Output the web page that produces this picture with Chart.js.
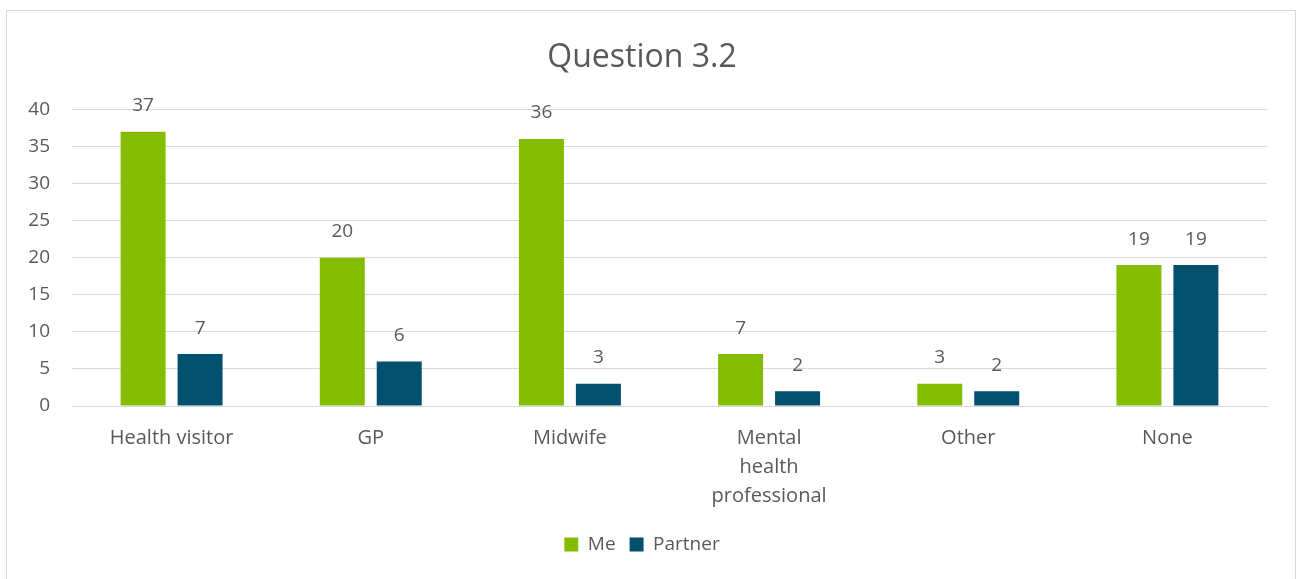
<!DOCTYPE html>
<html>
<head>
<meta charset="utf-8">
<script src="https://cdn.jsdelivr.net/npm/chart.js@4"></script>
<style>
  html, body { margin: 0; padding: 0; background: #fff; }
  #frame {
    position: absolute;
    left: 6px; top: 10px;
    width: 1290px; height: 580px;
    border: 1px solid #d9d9d9;
    box-sizing: border-box;
  }
  #frame canvas { display: block; }
</style>
</head>
<body>
<div id="frame"><canvas id="chart"></canvas></div>
<script>
// Question 3.2 responses, grouped by who was asked
const categories = ["Health visitor", "GP", "Midwife", ["Mental", "health", "professional"], "Other", "None"];
const meValues = [37, 20, 36, 7, 3, 19];
const partnerValues = [7, 6, 3, 2, 2, 19];
const yTicks = [0, 5, 10, 15, 20, 25, 30, 35, 40];

const textColor = "#595959";
const gridColor = "#d9d9d9";
const fontFamily = "'Open Sans', 'Noto Sans', sans-serif";

// Draws each bar's value just above it
const valueLabels = {
  id: "valueLabels",
  afterDatasetsDraw(chart) {
    const ctx = chart.ctx;
    ctx.save();
    ctx.fillStyle = textColor;
    ctx.font = `19px ${fontFamily}`;
    ctx.textAlign = "center";
    ctx.textBaseline = "middle";
    chart.data.datasets.forEach((ds, i) => {
      chart.getDatasetMeta(i).data.forEach((bar, j) => {
        ctx.fillText(ds.data[j], bar.x, bar.y - 26);
      });
    });
    ctx.restore();
  }
};

Chart.defaults.font.family = fontFamily;
Chart.defaults.color = textColor;

new Chart(document.getElementById("chart"), {
  type: "bar",
  data: {
    labels: categories,
    datasets: [
      {
        label: "Me",
        data: meValues,
        backgroundColor: "#84bd00",
        categoryPercentage: 0.572,
        barPercentage: 0.79
      },
      {
        label: "Partner",
        data: partnerValues,
        backgroundColor: "#00506e",
        categoryPercentage: 0.572,
        barPercentage: 0.79
      }
    ]
  },
  plugins: [valueLabels],
  options: {
    responsive: true,
    maintainAspectRatio: false,
    animation: false,
    layout: { padding: { left: 10, right: 28, top: 14, bottom: 25 } },
    scales: {
      x: {
        grid: { display: false },
        border: { color: gridColor, width: 1 },
        ticks: {
          color: textColor,
          font: { size: 20, lineHeight: 1.45 },
          maxRotation: 0,
          padding: 10
        }
      },
      y: {
        min: 0,
        max: 40,
        afterBuildTicks: (axis) => { axis.ticks = yTicks.map(v => ({ value: v })); },
        afterFit: (axis) => { axis.width = 55; },
        grid: { color: gridColor, drawTicks: false },
        border: { display: false },
        ticks: {
          color: textColor,
          font: { size: 19 },
          padding: 22
        }
      }
    },
    plugins: {
      title: {
        display: true,
        text: "Question 3.2",
        color: textColor,
        font: { size: 32, weight: "normal" },
        padding: { top: 14, bottom: 32 }
      },
      legend: {
        position: "bottom",
        labels: {
          color: textColor,
          font: { size: 19 },
          boxWidth: 14,
          boxHeight: 14,
          padding: 14
        }
      },
      tooltip: { enabled: false }
    }
  }
});
</script>
</body>
</html>
